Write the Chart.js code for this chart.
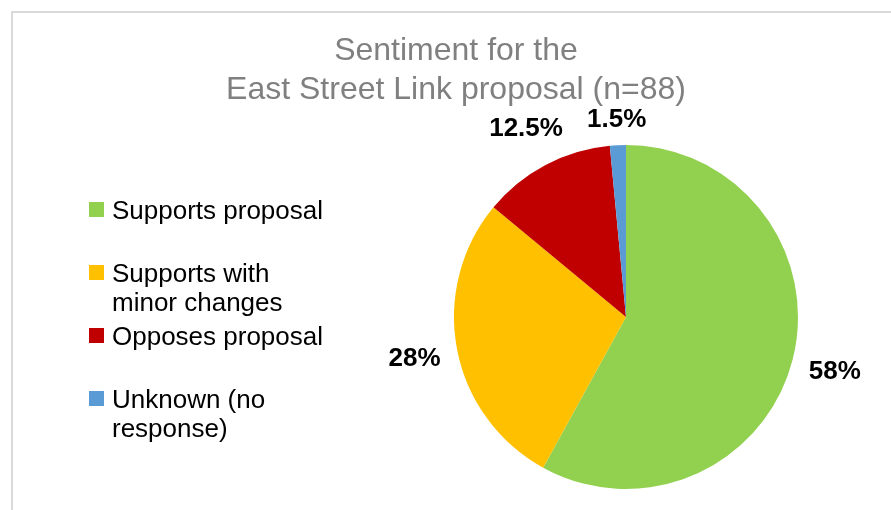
<!DOCTYPE html>
<html>
<head>
<meta charset="utf-8">
<script src="https://cdn.jsdelivr.net/npm/chart.js@4.4.0/dist/chart.umd.min.js"></script>
<style>
  html, body { margin: 0; padding: 0; background: #fff; }
  #wrap { width: 891px; height: 510px; position: relative; }
</style>
</head>
<body>
<div id="wrap"><canvas id="chart" width="891" height="510"></canvas></div>
<script>
// Chart data
const categories = ['Supports proposal', 'Supports with minor changes', 'Opposes proposal', 'Unknown (no response)'];
const percentages = [58, 28, 12.5, 1.5];
const sliceColors = ['#92d050', '#ffc000', '#c00000', '#5b9bd5'];
const titleLines = ['Sentiment for the', 'East Street Link proposal (n=88)'];

const FONT = '"Liberation Sans", Arial, sans-serif';

// Draws frame, title, wrapped legend and outside-end value labels
const excelLook = {
  id: 'excelLook',
  beforeDraw(chart) {
    const ctx = chart.ctx;
    ctx.save();
    ctx.strokeStyle = '#d9d9d9';
    ctx.lineWidth = 2;
    ctx.strokeRect(12, 12, 1000, 1000);
    ctx.restore();
  },
  afterDraw(chart) {
    const ctx = chart.ctx;
    ctx.save();

    // title
    ctx.fillStyle = '#808080';
    ctx.font = '32px ' + FONT;
    ctx.textAlign = 'center';
    ctx.textBaseline = 'alphabetic';
    titleLines.forEach((line, i) => ctx.fillText(line, 456, 60 + i * 39));

    // legend
    ctx.font = '26px ' + FONT;
    ctx.textAlign = 'left';
    const maxW = 222;
    categories.forEach((label, i) => {
      const words = label.split(' ');
      const lines = [];
      let cur = '';
      words.forEach(w => {
        const test = cur ? cur + ' ' + w : w;
        if (ctx.measureText(test).width > maxW && cur) {
          lines.push(cur);
          cur = w;
        } else {
          cur = test;
        }
      });
      lines.push(cur);
      const cy = 210 + i * 63;
      ctx.fillStyle = sliceColors[i];
      ctx.fillRect(89, cy - 8, 15, 15);
      ctx.fillStyle = '#000';
      lines.forEach((ln, j) => ctx.fillText(ln, 112, cy + 9 + j * 29));
    });

    // value labels outside the slices
    ctx.font = 'bold 26px ' + FONT;
    ctx.textAlign = 'center';
    ctx.textBaseline = 'middle';
    const meta = chart.getDatasetMeta(0);
    meta.data.forEach((arc, i) => {
      const p = arc.getProps(['x', 'y', 'startAngle', 'endAngle', 'outerRadius'], true);
      const mid = (p.startAngle + p.endAngle) / 2;
      const txt = percentages[i] + '%';
      const w = ctx.measureText(txt).width;
      const h = 19;
      const c = Math.cos(mid), s = Math.sin(mid);
      const ext = Math.abs(c) * w / 2 + Math.abs(s) * h / 2;
      const d = p.outerRadius + 16 + ext;
      ctx.fillStyle = '#000';
      ctx.fillText(txt, p.x + c * d, p.y + s * d + 1);
    });

    ctx.restore();
  }
};

new Chart(document.getElementById('chart'), {
  type: 'pie',
  data: {
    labels: categories,
    datasets: [{
      data: percentages,
      backgroundColor: sliceColors,
      borderWidth: 0,
      hoverOffset: 0,
      offset: 0
    }]
  },
  options: {
    responsive: false,
    animation: false,
    events: [],
    layout: { padding: { left: 454, right: 93, top: 145, bottom: 21 } },
    plugins: {
      legend: { display: false },
      tooltip: { enabled: false },
      title: { display: false }
    }
  },
  plugins: [excelLook]
});
</script>
</body>
</html>
